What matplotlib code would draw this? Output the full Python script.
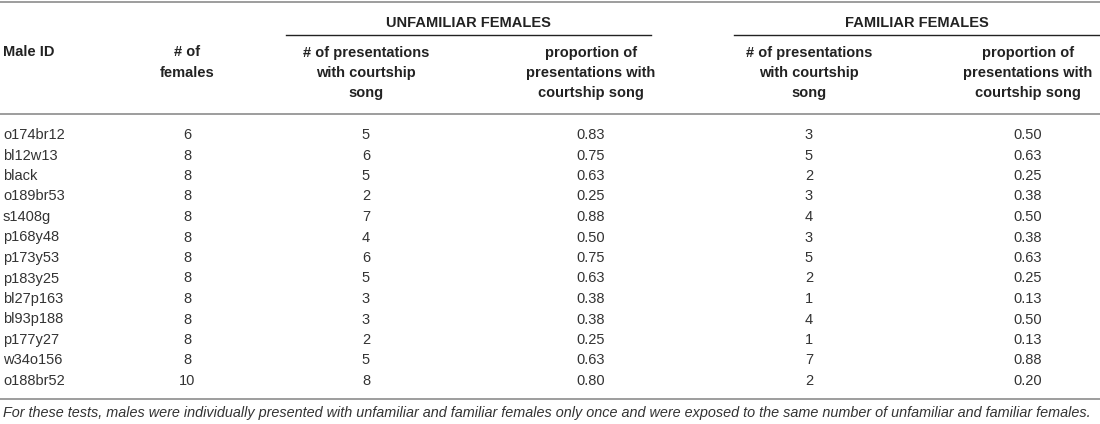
import matplotlib
matplotlib.use("Agg")
import matplotlib.pyplot as plt

""" ---------- Table data ---------- """

male_ids = ["o174br12", "bl12w13", "black", "o189br53", "s1408g", "p168y48", "p173y53",
            "p183y25", "bl27p163", "bl93p188", "p177y27", "w34o156", "o188br52"]
n_females = [6, 8, 8, 8, 8, 8, 8, 8, 8, 8, 8, 8, 10]
unfam_song = [5, 6, 5, 2, 7, 4, 6, 5, 3, 3, 2, 5, 8]
unfam_prop = [0.83, 0.75, 0.63, 0.25, 0.88, 0.50, 0.75, 0.63, 0.38, 0.38, 0.25, 0.63, 0.80]
fam_song = [3, 5, 2, 3, 4, 3, 5, 2, 1, 4, 1, 7, 2]
fam_prop = [0.50, 0.63, 0.25, 0.38, 0.50, 0.38, 0.63, 0.25, 0.13, 0.50, 0.13, 0.88, 0.20]

group_labels = ["UNFAMILIAR FEMALES", "FAMILIAR FEMALES"]
col_headers = ["Male ID", "# of\nfemales",
               "# of presentations\nwith courtship\nsong",
               "proportion of\npresentations with\ncourtship song",
               "# of presentations\nwith courtship\nsong",
               "proportion of\npresentations with\ncourtship song"]
footnote = ("For these tests, males were individually presented with unfamiliar and familiar "
            "females only once and were exposed to the same number of unfamiliar and familiar females.")


def main() -> None:
    plt.rcParams['font.family'] = ['Liberation Sans', 'DejaVu Sans']
    fig = plt.figure(figsize=(11, 4.24), dpi=100)
    ax = fig.add_axes([0, 0, 1, 1])
    ax.set_xlim(0, 1100)
    ax.set_ylim(424, 0)
    ax.axis('off')

    body_color = '#333333'
    head_color = '#222222'
    rule_color = '#8c8c8c'
    fs = 10.5

    # column centres (pixels)
    col_x = [3, 187, 366, 591, 809, 1028]

    # rules
    ax.plot([0, 1100], [2, 2], color=rule_color, lw=1.2)
    ax.plot([0, 1100], [114, 114], color=rule_color, lw=1.2)
    ax.plot([0, 1100], [399, 399], color=rule_color, lw=1.2)
    group_spans = [(286, 651), (734, 1100)]
    for label, (x0, x1) in zip(group_labels, group_spans):
        ax.plot([x0, x1], [35, 35], color=head_color, lw=1.0)
        ax.text((x0 + x1) / 2, 23, label, ha='center', va='center',
                fontsize=fs, fontweight='bold', color=head_color)

    # column headers
    for i, header in enumerate(col_headers):
        ha = 'left' if i == 0 else 'center'
        ax.text(col_x[i], 45.5, header, ha=ha, va='top', fontsize=fs, fontweight='bold',
                color=head_color, linespacing=1.55, multialignment='center')

    # body rows
    columns = [male_ids, n_females, unfam_song,
               ["{:.2f}".format(v) for v in unfam_prop],
               fam_song,
               ["{:.2f}".format(v) for v in fam_prop]]
    for r in range(len(male_ids)):
        y = 135 + r * 20.5
        for c, col in enumerate(columns):
            ha = 'left' if c == 0 else 'center'
            ax.text(col_x[c], y, str(col[r]), ha=ha, va='center', fontsize=fs, color=body_color)

    ax.text(3, 413, footnote, ha='left', va='center', fontsize=10.38,
            style='italic', color=body_color)

    fig.savefig('out.png', dpi=100)


if __name__ == "__main__":
    main()
